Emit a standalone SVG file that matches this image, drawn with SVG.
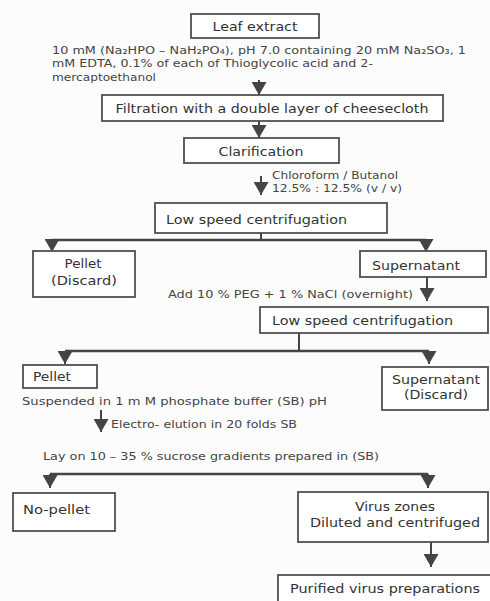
<svg xmlns="http://www.w3.org/2000/svg" width="490" height="601" viewBox="0 0 490 601">
<style>
.bg{fill:#fcfcfc}
.box{fill:#ffffff;stroke:#505050;stroke-width:1.8}
.t{font-family:"DejaVu Sans",Verdana,sans-serif;font-size:13px;fill:#333}
.n{font-family:"DejaVu Sans",Verdana,sans-serif;font-size:11px;fill:#454545}
.c{text-anchor:middle}
.ln{stroke:#444;stroke-width:2;fill:none}
.br{stroke:#444;stroke-width:2.6;fill:none}
</style>
<defs>
<marker id="tri" viewBox="0 0 13 15" refX="13" refY="7.5" markerWidth="13" markerHeight="15" markerUnits="userSpaceOnUse" orient="auto">
<path d="M0,0 L13,7.5 L0,15 z" fill="#444"/>
</marker>
</defs>
<rect class="bg" x="0" y="0" width="490" height="601"/>

<g id="connectors">
<line class="ln" x1="259" y1="80" x2="259" y2="95" marker-end="url(#tri)"/>
<line class="ln" x1="259" y1="121" x2="259" y2="138" marker-end="url(#tri)"/>
<line class="ln" x1="261" y1="176" x2="261" y2="195" marker-end="url(#tri)"/>
<line class="ln" x1="261" y1="233" x2="261" y2="240"/>
<line class="br" x1="52" y1="240" x2="426" y2="240"/>
<line class="ln" x1="52" y1="240" x2="52" y2="252" marker-end="url(#tri)"/>
<line class="ln" x1="426" y1="240" x2="426" y2="252" marker-end="url(#tri)"/>
<line class="ln" x1="427" y1="277" x2="427" y2="301" marker-end="url(#tri)"/>
<line class="ln" x1="299" y1="333" x2="299" y2="351"/>
<line class="br" x1="65" y1="351" x2="429" y2="351"/>
<line class="ln" x1="65" y1="351" x2="65" y2="364" marker-end="url(#tri)"/>
<line class="ln" x1="429" y1="351" x2="429" y2="364" marker-end="url(#tri)"/>
<line class="ln" x1="101" y1="410" x2="101" y2="432" marker-end="url(#tri)"/>
<line class="br" x1="50" y1="474" x2="428" y2="474"/>
<line class="ln" x1="50" y1="474" x2="50" y2="488" marker-end="url(#tri)"/>
<line class="ln" x1="428" y1="474" x2="428" y2="488" marker-end="url(#tri)"/>
<line class="ln" x1="431" y1="542" x2="431" y2="567" marker-end="url(#tri)"/>
</g>

<g id="leaf">
<rect class="box" x="191" y="14" width="128" height="24"/>
<text class="t c" x="255" y="31" textLength="85" lengthAdjust="spacingAndGlyphs">Leaf extract</text>
</g>
<g id="buffer-note">
<text class="n" x="52" y="54" textLength="414" lengthAdjust="spacingAndGlyphs">10 mM (Na₂HPO – NaH₂PO₄), pH 7.0 containing 20 mM Na₂SO₃, 1</text>
<text class="n" x="52" y="67" textLength="321" lengthAdjust="spacingAndGlyphs">mM EDTA, 0.1% of each of Thioglycolic acid and 2-</text>
<text class="n" x="52" y="81" textLength="104" lengthAdjust="spacingAndGlyphs">mercaptoethanol</text>
</g>
<g id="filtration">
<rect class="box" x="102" y="95" width="341" height="26"/>
<text class="t c" x="272" y="113" textLength="313" lengthAdjust="spacingAndGlyphs">Filtration with a double layer of cheesecloth</text>
</g>
<g id="clarification">
<rect class="box" x="184" y="138" width="155" height="25"/>
<text class="t c" x="261" y="156" textLength="85" lengthAdjust="spacingAndGlyphs">Clarification</text>
</g>
<g id="solvent-note">
<text class="n" x="272" y="179" textLength="126" lengthAdjust="spacingAndGlyphs">Chloroform / Butanol</text>
<text class="n" x="272" y="192" textLength="130" lengthAdjust="spacingAndGlyphs">12.5% : 12.5% (v / v)</text>
</g>
<g id="lsc1">
<rect class="box" x="155" y="203" width="232" height="30"/>
<text class="t" x="166" y="224" textLength="181" lengthAdjust="spacingAndGlyphs">Low speed centrifugation</text>
</g>
<g id="pellet1">
<rect class="box" x="33" y="251" width="102" height="46"/>
<text class="t c" x="83" y="268" textLength="37" lengthAdjust="spacingAndGlyphs">Pellet</text>
<text class="t c" x="84" y="285" textLength="66" lengthAdjust="spacingAndGlyphs">(Discard)</text>
</g>
<g id="supernatant1">
<rect class="box" x="360" y="251" width="126" height="26"/>
<text class="t c" x="416" y="270" textLength="88" lengthAdjust="spacingAndGlyphs">Supernatant</text>
</g>
<g id="peg-note">
<text class="n" x="168" y="298" textLength="245" lengthAdjust="spacingAndGlyphs">Add 10 % PEG + 1 % NaCl (overnight)</text>
</g>
<g id="lsc2">
<rect class="box" x="260" y="307" width="228" height="26"/>
<text class="t" x="272" y="325" textLength="181" lengthAdjust="spacingAndGlyphs">Low speed centrifugation</text>
</g>
<g id="pellet2">
<rect class="box" x="23" y="365" width="74" height="23"/>
<text class="t" x="33" y="381" textLength="38" lengthAdjust="spacingAndGlyphs">Pellet</text>
</g>
<g id="supernatant2">
<rect class="box" x="382" y="367" width="106" height="43"/>
<text class="t c" x="436" y="384" textLength="88" lengthAdjust="spacingAndGlyphs">Supernatant</text>
<text class="t c" x="436" y="399" textLength="64" lengthAdjust="spacingAndGlyphs">(Discard)</text>
</g>
<g id="sb-note">
<text class="n" x="22" y="405" textLength="305" lengthAdjust="spacingAndGlyphs">Suspended in 1 m M phosphate buffer (SB) pH</text>
<text class="n" x="111" y="428" textLength="186" lengthAdjust="spacingAndGlyphs">Electro- elution in 20 folds SB</text>
<text class="n" x="43" y="460" textLength="336" lengthAdjust="spacingAndGlyphs">Lay on 10 – 35 % sucrose gradients prepared in (SB)</text>
</g>
<g id="nopellet">
<rect class="box" x="13" y="493" width="102" height="38"/>
<text class="t" x="23" y="514" textLength="67" lengthAdjust="spacingAndGlyphs">No-pellet</text>
</g>
<g id="virus">
<rect class="box" x="298" y="492" width="190" height="50"/>
<text class="t c" x="395" y="511" textLength="80" lengthAdjust="spacingAndGlyphs">Virus zones</text>
<text class="t c" x="395" y="527" textLength="170" lengthAdjust="spacingAndGlyphs">Diluted and centrifuged</text>
</g>
<g id="purified">
<rect class="box" x="278" y="575" width="215" height="40"/>
<text class="t" x="290" y="593" textLength="190" lengthAdjust="spacingAndGlyphs">Purified virus preparations</text>
</g>
</svg>
